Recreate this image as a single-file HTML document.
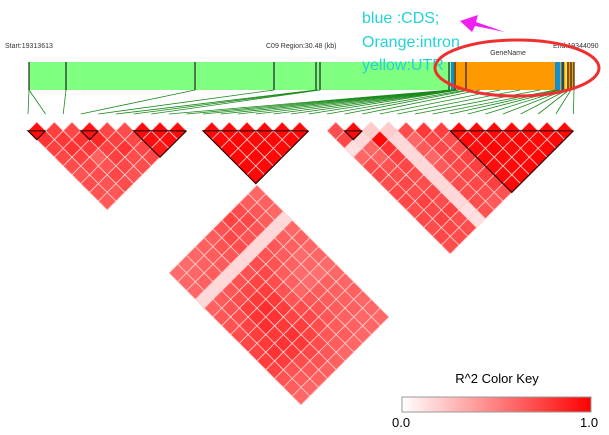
<!DOCTYPE html>
<html><head><meta charset="utf-8"><style>
html,body{margin:0;padding:0;background:#fff;}
svg{display:block;font-family:"Liberation Sans",sans-serif;}
</style></head><body>
<svg id="chart" width="609" height="435" viewBox="0 0 609 435">
<defs>
<linearGradient id="keygrad" x1="0" x2="1" y1="0" y2="0">
<stop offset="0" stop-color="#ffffff"/><stop offset="1" stop-color="#ff0000"/>
</linearGradient>
</defs>
<g id="topbar">
<text x="5" y="48" font-size="7" fill="#333">Start:19313613</text>
<text x="266" y="48" font-size="7" fill="#333">C09 Region:30.48 (kb)</text>
<text x="553" y="48" font-size="7" fill="#333">End:19344090</text>
<text x="508" y="55" font-size="7" fill="#333" text-anchor="middle">GeneName</text>
<rect x="29" y="62" width="424" height="28" fill="#80ff80"/>
<rect x="453" y="62" width="121" height="28" fill="#ff9900"/>
<rect x="451" y="62" width="3" height="28" fill="#1090d0"/>
<rect x="555" y="62" width="5" height="28" fill="#1090d0"/>
<rect x="561" y="62" width="3" height="28" fill="#1090d0"/>
<rect x="565" y="62" width="2" height="28" fill="#ffe040"/>
<g stroke="#222" stroke-width="1.2">
<line x1="29" y1="62" x2="29" y2="90"/><line x1="66" y1="62" x2="66" y2="90"/>
<line x1="195" y1="62" x2="195" y2="90"/><line x1="274" y1="62" x2="274" y2="90"/>
<line x1="316" y1="62" x2="316" y2="90"/><line x1="320" y1="62" x2="320" y2="90"/>
<line x1="449" y1="62" x2="449" y2="90"/><line x1="455" y1="62" x2="455" y2="90"/>
<line x1="466" y1="62" x2="466" y2="90"/><line x1="563" y1="62" x2="563" y2="90"/>
<line x1="568" y1="62" x2="568" y2="90"/><line x1="571" y1="62" x2="571" y2="90"/>
<line x1="574" y1="62" x2="574" y2="90"/>
</g>
</g>
<g id="connectors"></g>
<g id="tri"></g>
<g id="key">
<text x="497" y="383" font-size="13" text-anchor="middle" fill="#000">R^2 Color Key</text>
<rect x="402" y="397" width="189" height="15" fill="url(#keygrad)" stroke="#999"/>
<text x="392" y="427" font-size="13" fill="#000">0.0</text>
<text x="580" y="427" font-size="13" fill="#000">1.0</text>
</g>
<g>
<text x="362" y="23" font-size="16" fill="#22d3d3">blue :CDS;</text>
<text x="362" y="47" font-size="16" fill="#22d3d3">Orange:intron</text>
<text x="362" y="70" font-size="16" fill="#22d3d3">yellow:UTR</text>
<polygon points="460,21 478,15 476,22 505,32 475,26 472,32" fill="#f020f0"/>
<ellipse cx="517" cy="68" rx="82" ry="28" fill="none" stroke="#f03030" stroke-width="3"/>
</g>
</svg>
<script>
// SNP genome x-positions (gene bar) for 32 SNPs
const geneX = [29,29,66,195,274,316,318,320,450,452, 453,454,455,456,457,458,459, 466,470,480,500,520,540,555,558,560,563,565,567,569,571,574];
// Triangle 1 r2 rows (by distance d)
const tri1 = [
[0.95,0.75,0.72,0.92,0.72,0.7,0.96,0.97,0.95],
[0.8,0.78,0.8,0.85,0.75,0.72,0.95,0.95],
[0.75,0.8,0.78,0.75,0.8,0.72,0.9],
[0.72,0.75,0.62,0.75,0.7,0.72],
[0.7,0.72,0.68,0.72,0.7],
[0.68,0.7,0.72,0.68],
[0.7,0.68,0.7],
[0.68,0.66],
[0.65]];
const tri2 = [
[0.97,0.97,0.97,0.97,0.97,0.97],
[0.97,0.98,0.97,0.98,0.97],
[0.98,0.97,0.99,0.97],
[0.97,0.98,0.97],
[0.98,0.97],
[0.97]];
const tri3 = [
[0.7,0.97,0.2,0.2,0.7,0.78,0.75,0.97,0.97,0.97,0.97,0.97,0.97,0.97],
[0.72,0.15,0.97,0.15,0.6,0.72,0.7,0.97,0.98,0.97,0.98,0.97,0.97],
[0.12,0.6,0.8,0.15,0.65,0.72,0.7,0.95,0.98,0.97,0.97,0.98],
[0.6,0.62,0.75,0.15,0.6,0.72,0.75,0.95,0.97,0.97,0.98],
[0.7,0.68,0.72,0.15,0.65,0.72,0.75,0.95,0.97,0.97],
[0.72,0.7,0.7,0.15,0.68,0.72,0.75,0.96,0.97],
[0.7,0.72,0.7,0.15,0.7,0.72,0.75,0.97],
[0.72,0.7,0.72,0.15,0.7,0.7,0.68],
[0.72,0.75,0.7,0.15,0.7,0.65],
[0.7,0.72,0.75,0.12,0.68],
[0.72,0.75,0.7,0.12],
[0.7,0.72,0.7],
[0.72,0.7],
[0.7]];
// Inter-block LD (10 rows x 15 cols)
const big = [
[0.6,0.62,0.6,0.15,0.6,0.62,0.6,0.6,0.58,0.6,0.6,0.62,0.6,0.6,0.6],
[0.64,0.66,0.64,0.15,0.62,0.62,0.58,0.6,0.56,0.62,0.62,0.62,0.62,0.6,0.6],
[0.7,0.72,0.68,0.15,0.66,0.64,0.62,0.58,0.58,0.64,0.64,0.64,0.62,0.62,0.6],
[0.74,0.7,0.68,0.15,0.68,0.68,0.64,0.62,0.6,0.66,0.68,0.66,0.64,0.64,0.6],
[0.68,0.72,0.7,0.15,0.7,0.72,0.7,0.68,0.66,0.7,0.72,0.7,0.66,0.64,0.6],
[0.64,0.68,0.66,0.15,0.68,0.74,0.76,0.78,0.76,0.74,0.76,0.74,0.7,0.66,0.62],
[0.62,0.64,0.64,0.15,0.68,0.72,0.78,0.82,0.8,0.78,0.8,0.78,0.72,0.68,0.62],
[0.6,0.62,0.64,0.15,0.66,0.7,0.76,0.8,0.82,0.78,0.8,0.78,0.7,0.66,0.62],
[0.58,0.6,0.62,0.15,0.64,0.68,0.7,0.74,0.76,0.78,0.8,0.76,0.68,0.64,0.6],
[0.58,0.6,0.6,0.15,0.62,0.66,0.68,0.7,0.72,0.74,0.76,0.74,0.68,0.64,0.6]];
// Haplotype block ranges per triangle [start, end] in top-row diamond index
const blocks1 = [[0,0],[3,3],[6,8]];
const blocks2 = [[0,5]];
const blocks3 = [[1,1],[7,13]];

const NS = "http://www.w3.org/2000/svg";
const H = 8.8, TOP = 122, BARBOT = 90, LINEEND = 114;
const triStarts = [28, 203, 327];
const triData = [tri1, tri2, tri3];
const triBlocks = [blocks1, blocks2, blocks3];
function color(r){const v=Math.round(255*(1-r));return `rgb(255,${v},${v})`;}
function diamond(cx, cy){return `${cx},${cy-H} ${cx+H},${cy} ${cx},${cy+H} ${cx-H},${cy}`;}
function mk(tag, attrs, parent){const e=document.createElementNS(NS,tag);for(const k in attrs)e.setAttribute(k,attrs[k]);parent.appendChild(e);return e;}

const conn = document.getElementById('connectors');
const snpX = [];
triData.forEach((t,ti)=>{ for(let k=0;k<=t[0].length;k++) snpX.push(triStarts[ti]+k*2*H); });
snpX.forEach((sx,i)=>{
  const l = mk('line',{x1:geneX[i],y1:BARBOT,x2:sx,y2:LINEEND,stroke:'#1a8a1a','stroke-width':0.8},conn);
  
  
});

const tg = document.getElementById('tri');
triData.forEach((t,ti)=>{
  const xs = triStarts[ti];
  t.forEach((row,d)=>{ row.forEach((v,a)=>{
    const cx = xs + (2*a+d+1)*H, cy = TOP + H + d*H;
    const p = mk('polygon',{points:diamond(cx,cy),fill:color(v),stroke:'#ffd0d0','stroke-width':0.8},tg);
    
    
  });});
  triBlocks[ti].forEach(([a0,a1])=>{
    const lx = xs + a0*2*H, rx = xs + (a1+1)*2*H, y = TOP + H;
    const ax = (lx+rx)/2, ay = y + (a1-a0+1)*H;
    const b = mk('polyline',{points:`${rx},${y} ${lx},${y} ${ax},${ay} ${rx},${y}`,fill:'none',stroke:'#300','stroke-width':1.2},tg);
    
    
  });
});
// inter-block square, apex below triangle 2
const bx0 = 257, by0 = 185;
big.forEach((row,i)=>{ row.forEach((v,j)=>{
  const cx = bx0 + (j-i)*H, cy = by0 + (i+j+1)*H;
  const p = mk('polygon',{points:diamond(cx,cy),fill:color(v),stroke:'#ffd0d0','stroke-width':0.8},tg);
  
  
});});
</script>
</body></html>
